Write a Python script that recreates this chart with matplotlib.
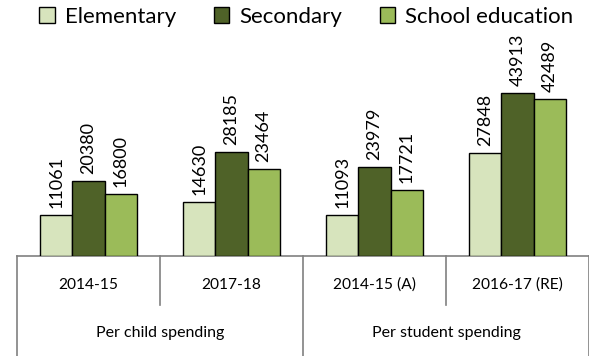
import matplotlib
matplotlib.use("Agg")
import matplotlib.pyplot as plt
import matplotlib.transforms as mtransforms
from matplotlib.patches import Patch
import numpy as np

categories = ["2014-15", "2017-18", "2014-15 (A)", "2016-17 (RE)"]
groups = ["Per child spending", "Per student spending"]
series_names = ["Elementary", "Secondary", "School education"]
elementary = [11061, 14630, 11093, 27848]
secondary = [20380, 28185, 23979, 43913]
school = [16800, 23464, 17721, 42489]
colors = ["#D7E4BD", "#4F6228", "#9BBB59"]

W, H = 589, 356
fig = plt.figure(figsize=(W / 100, H / 100), dpi=100)
plt.rcParams['font.family'] = ['Lato', 'DejaVu Sans']

base_y = 256
ymax = 50000
px_per_unit = 1 / 270.0
top_y = base_y - ymax * px_per_unit
ax = fig.add_axes([17 / W, 1 - base_y / H, (W - 17) / W, (base_y - top_y) / H])

x = np.arange(len(categories))
bw = 0.224
for i, (vals, c) in enumerate(zip([elementary, secondary, school], colors)):
    xs = x + (i - 1) * bw
    ax.bar(xs, vals, width=bw, color=c, edgecolor="black", linewidth=1.0, zorder=3)
    for xx, v in zip(xs, vals):
        ax.annotate(f"{v}", (xx, v), xytext=(0, 5), textcoords="offset points",
                    rotation=90, ha="center", va="bottom", fontsize=13,
                    annotation_clip=False, clip_on=False)

ax.set_xlim(-0.5, 3.5)
ax.set_ylim(0, ymax)
for s in ["top", "right", "left"]:
    ax.spines[s].set_visible(False)
ax.spines["bottom"].set_color("#808080")
ax.spines["bottom"].set_linewidth(1.2)
ax.set_yticks([])
ax.set_xticks([])

tr = mtransforms.blended_transform_factory(ax.transData, fig.transFigure)
def fy(py):
    return 1 - py / H

for xb in [-0.5, 1.5, 3.5]:
    ax.plot([xb, xb], [fy(base_y), fy(H)], color="#808080", lw=1.2, transform=tr, clip_on=False)
for xb in [0.5, 2.5]:
    ax.plot([xb, xb], [fy(base_y), fy(305)], color="#808080", lw=1.2, transform=tr, clip_on=False)

for xi, lab in zip(x, categories):
    ax.text(xi, fy(285), lab, transform=tr, ha="center", va="center", fontsize=11.2)
for gi, lab in enumerate(groups):
    ax.text(0.5 + 2 * gi, fy(333), lab, transform=tr, ha="center", va="center", fontsize=11.5)

handles = [Patch(facecolor=c, edgecolor="black", linewidth=1.0) for c in colors]
fig.legend(handles, series_names, loc="center", bbox_to_anchor=(0.52, 1 - 17 / H), ncol=3,
           frameon=False, fontsize=16, handlelength=0.7, handleheight=0.7,
           handletextpad=0.45, columnspacing=1.7, borderaxespad=0)

fig.savefig("out.png", dpi=100)
